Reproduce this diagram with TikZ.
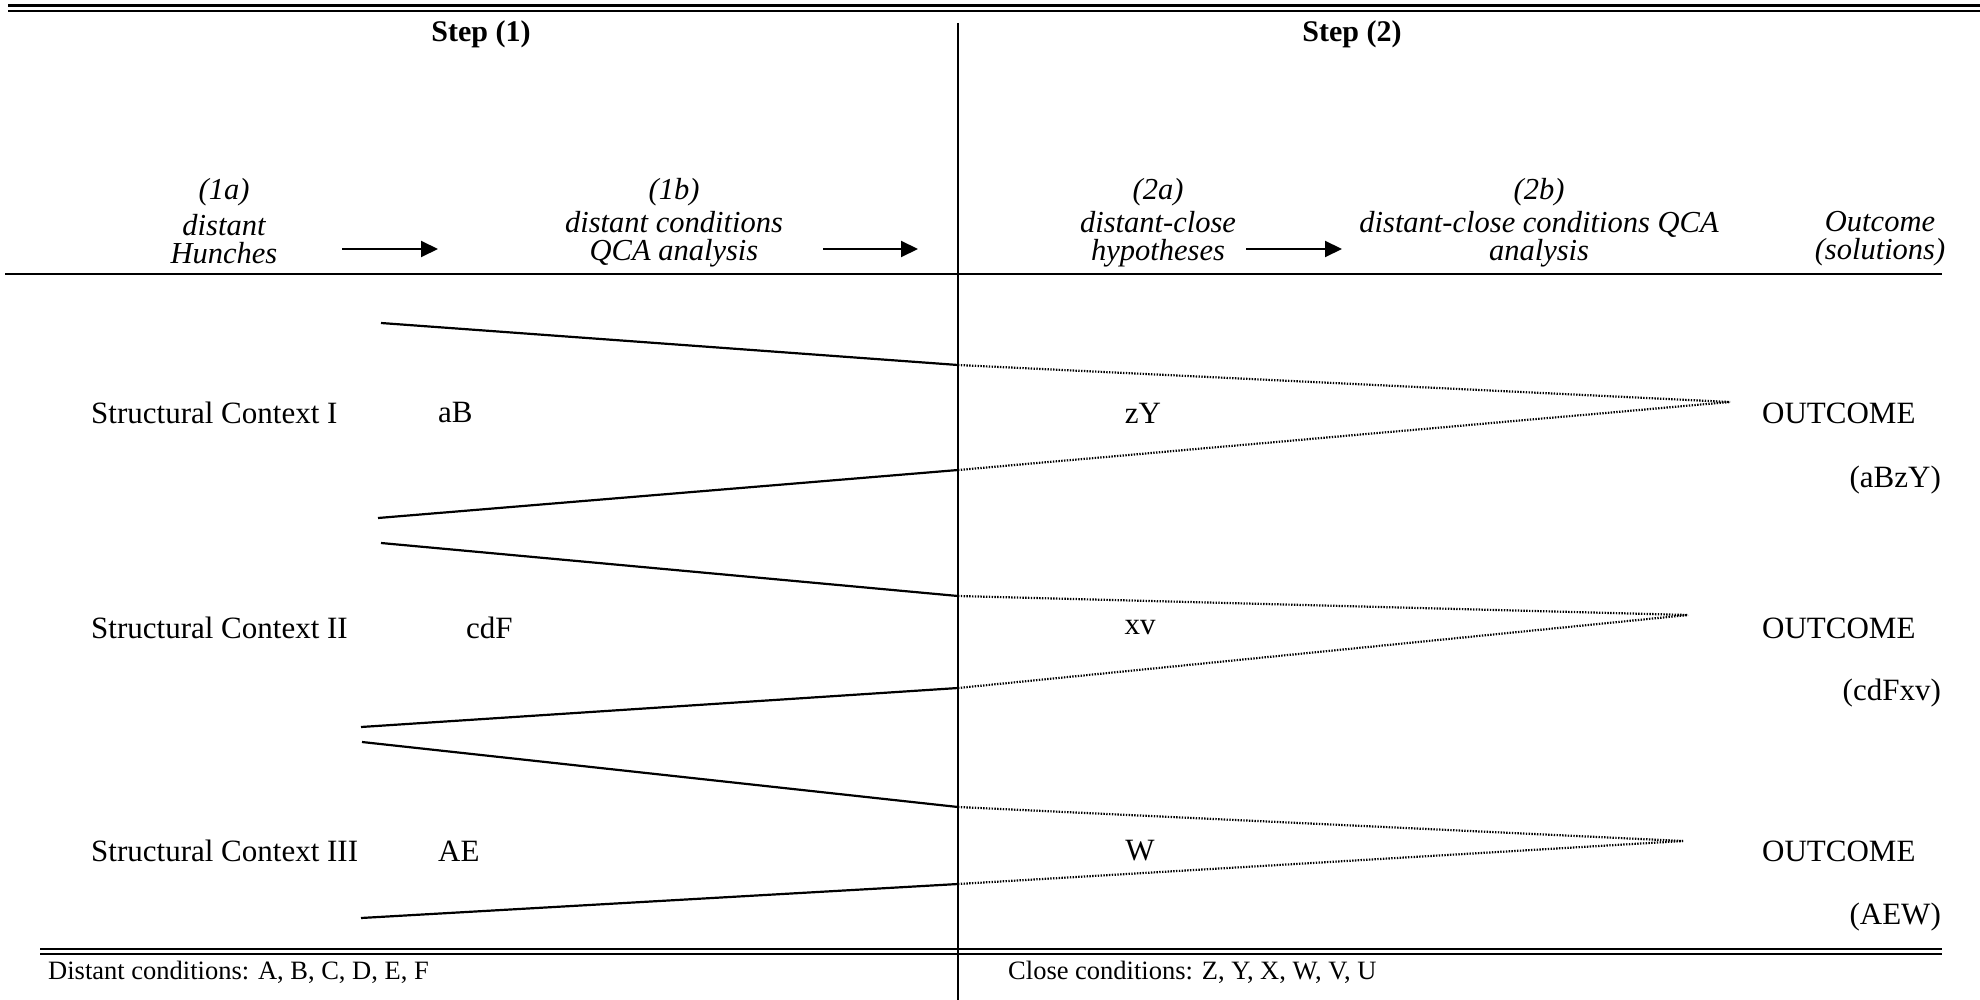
\documentclass[tikz,border=0pt]{standalone}
\usepackage{fontspec}
\setmainfont{Liberation Serif}
\usetikzlibrary{arrows.meta}
\begin{document}
\begin{tikzpicture}[x=1pt,y=-1pt,
  txt/.style={font=\fontsize{31}{36}\selectfont, inner sep=0pt},
  hd/.style={font=\fontsize{30}{34}\selectfont\bfseries, inner sep=0pt},
  lab/.style={font=\fontsize{30.5}{28}\selectfont\itshape, inner sep=0pt, align=center},
  small/.style={font=\fontsize{26.5}{30}\selectfont, inner sep=0pt},
  rule/.style={line width=2.5pt},
  solidln/.style={line width=2.2pt},
  dotln/.style={line width=2.2pt, dash pattern=on 1.4pt off 1.4pt},
  arr/.style={line width=2pt, -{Triangle[length=17pt,width=16pt]}},
]
\useasboundingbox (0,0) rectangle (1980,1000);
\fill[white] (0,0) rectangle (1980,1000);

% rules
\draw[line width=3pt] (8,6) -- (1980,6);
\draw[line width=2pt] (8,11) -- (1980,11);
\draw[rule] (5,274) -- (1942,274);
\draw[line width=2.2pt] (40,949) -- (1942,949);
\draw[line width=2.2pt] (40,954) -- (1942,954);
\coordinate (vtop) at (958,23);
\coordinate (vbot) at (958,1000);
\draw[line width=2pt] (vtop) -- (vbot);

% headings
\node[hd] (s1) at (481,34) {Step (1)};
\node[hd] (s2) at (1352,34) {Step (2)};

\node[lab] (l1a) at (224,192) {(1a)};
\node[lab] (l1b) at (674,192) {(1b)};
\node[lab] (l2a) at (1158,192) {(2a)};
\node[lab] (l2b) at (1539,192) {(2b)};

\node[lab] (h1a) at (224,239) {distant\\Hunches};
\node[lab] (h1b) at (674,239) {distant conditions\\QCA analysis};
\node[lab] (h2a) at (1158,239) {distant-close\\hypotheses};
\node[lab] (h2b) at (1539,239) {distant-close conditions QCA\\analysis};
\node[lab] (hout) at (1880,239) {Outcome\\(solutions)};

\coordinate (a1s) at (342,249); \coordinate (a1e) at (438,249);
\coordinate (a2s) at (823,249); \coordinate (a2e) at (918,249);
\coordinate (a3s) at (1246,249); \coordinate (a3e) at (1342,249);
\draw[arr] (a1s) -- (a1e);
\draw[arr] (a2s) -- (a2e);
\draw[arr] (a3s) -- (a3e);

% row texts
\node[txt, anchor=west] (sc1) at (91,413) {Structural Context I};
\node[txt, anchor=west] (sc2) at (91,628) {Structural Context II};
\node[txt, anchor=west] (sc3) at (91,851) {Structural Context III};
\node[txt, anchor=west] (c1) at (438,413) {aB};
\node[txt, anchor=west] (c2) at (466,628) {cdF};
\node[txt, anchor=west] (c3) at (438,851) {AE};
\node[txt] (h1) at (1143,413) {zY};
\node[txt] (h2) at (1140,628) {xv};
\node[txt] (h3) at (1140,851) {W};
\node[txt, anchor=west] (o1) at (1762,413) {OUTCOME};
\node[txt, anchor=west] (o2) at (1762,628) {OUTCOME};
\node[txt, anchor=west] (o3) at (1762,851) {OUTCOME};
\node[txt, anchor=east] (r1) at (1941,480) {(aBzY)};
\node[txt, anchor=east] (r2) at (1941,693) {(cdFxv)};
\node[txt, anchor=east] (r3) at (1941,917) {(AEW)};

% group I lines
\coordinate (g1a) at (381,323); \coordinate (g1b) at (958,365);
\coordinate (g1c) at (378,518); \coordinate (g1d) at (958,470);
\coordinate (g1p) at (1730,402);
\draw[solidln] (g1a) -- (g1b);
\draw[solidln] (g1c) -- (g1d);
\draw[dotln] (g1b) -- (g1p);
\draw[dotln] (g1d) -- (g1p);
% group II lines
\coordinate (g2a) at (381,543); \coordinate (g2b) at (958,596);
\coordinate (g2c) at (361,727); \coordinate (g2d) at (958,688);
\coordinate (g2p) at (1688,615);
\draw[solidln] (g2a) -- (g2b);
\draw[solidln] (g2c) -- (g2d);
\draw[dotln] (g2b) -- (g2p);
\draw[dotln] (g2d) -- (g2p);
% group III lines
\coordinate (g3a) at (362,742); \coordinate (g3b) at (958,807);
\coordinate (g3c) at (361,918); \coordinate (g3d) at (958,884);
\coordinate (g3p) at (1683,841);
\draw[solidln] (g3a) -- (g3b);
\draw[solidln] (g3c) -- (g3d);
\draw[dotln] (g3b) -- (g3p);
\draw[dotln] (g3d) -- (g3p);

% footer
\node[small, anchor=west] (fd) at (48,972) {Distant conditions: A, B, C, D, E, F};
\node[small, anchor=west] (fc) at (1008,972) {Close conditions: Z, Y, X, W, V, U};
\end{tikzpicture}
\end{document}
